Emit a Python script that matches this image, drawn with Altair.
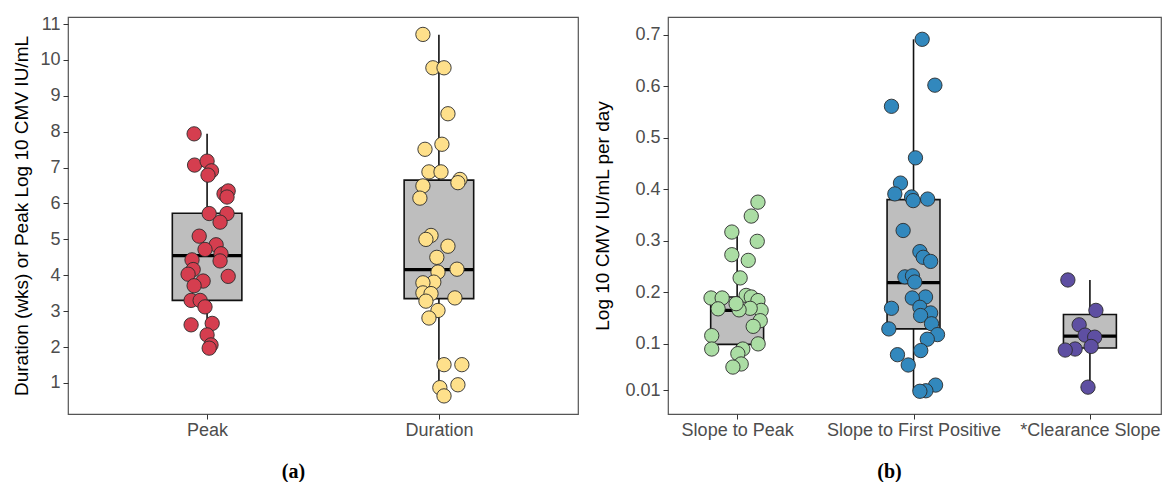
import altair as alt
import pandas as pd

# ---------------- Panel (a) data ----------------
a_groups = ["Peak", "Duration"]
peak_values = [7.94, 7.07, 7.18, 6.91, 6.79, 6.27, 6.35, 6.18, 5.72, 5.72, 5.48, 5.09,
               4.85, 4.72, 4.60, 4.40, 4.43, 4.16, 4.03, 3.97, 3.84, 3.71, 3.30, 3.30,
               3.12, 2.62, 2.66, 2.34, 2.06, 1.97]
peak_jitter = [-0.056, -0.054, 0.0, 0.019, 0.004, 0.073, 0.091, 0.086, 0.009, 0.086, 0.056, -0.034,
               0.039, -0.009, 0.060, 0.056, -0.065, -0.060, -0.082, 0.091, -0.017, -0.056, -0.069, -0.030,
               -0.009, -0.069, 0.022, 0.0, 0.017, 0.009]
duration_values = [10.71, 9.78, 9.78, 8.50, 7.65, 7.51, 6.88, 6.88, 6.67, 6.58, 6.49, 6.15,
                   5.11, 5.00, 4.81, 4.50, 4.17, 4.09, 3.81, 3.79, 3.51, 3.49, 3.28, 3.37,
                   3.02, 2.81, 1.51, 1.51, 0.95, 0.87, 0.64]
duration_jitter = [-0.069, -0.026, 0.022, 0.039, 0.013, -0.060, -0.043, 0.009, 0.091, 0.082, -0.069, -0.082,
                   -0.034, -0.056, 0.039, -0.009, 0.078, -0.004, -0.022, -0.069, -0.069, -0.034, -0.056, 0.069,
                   -0.004, -0.043, 0.022, 0.099, 0.082, 0.004, 0.022]
# box statistics (lower whisker, q1, median, q3, upper whisker)
a_lo = [1.97, 0.64]
a_q1 = [3.30, 3.35]
a_med = [4.55, 4.16]
a_q3 = [5.73, 6.65]
a_hi = [7.94, 10.70]
a_colors = ["#D53E4F", "#FEE08B"]
a_yticks = [1, 2, 3, 4, 5, 6, 7, 8, 9, 10, 11]

# ---------------- Panel (b) data ----------------
b_groups = ["Slope to Peak", "Slope to First Positive", "*Clearance Slope"]
stp_values = [0.375, 0.348, 0.317, 0.299, 0.273, 0.262, 0.228, 0.189, 0.189, 0.168, 0.194, 0.191,
              0.184, 0.165, 0.169, 0.166, 0.178, 0.145, 0.134, 0.116, 0.100, 0.090, 0.090, 0.081,
              0.061, 0.055]
stp_jitter = [0.118, 0.080, -0.030, 0.114, -0.030, 0.063, 0.017, -0.148, -0.085, -0.108, 0.051, 0.080,
              0.118, 0.136, 0.074, 0.011, -0.006, 0.131, 0.091, -0.144, 0.119, -0.144, 0.032, 0.004,
              0.023, -0.024]
sfp_values = [0.691, 0.602, 0.561, 0.461, 0.412, 0.391, 0.385, 0.378, 0.381, 0.320, 0.279, 0.268,
              0.260, 0.230, 0.232, 0.220, 0.191, 0.189, 0.171, 0.169, 0.160, 0.155, 0.139, 0.118,
              0.109, 0.129, 0.087, 0.079, 0.059, 0.020, 0.009, 0.008]
sfp_jitter = [0.049, 0.121, -0.125, 0.011, -0.074, -0.106, -0.011, -0.002, 0.080, -0.059, 0.036, 0.055,
              0.097, -0.049, -0.006, 0.007, 0.068, -0.007, 0.036, -0.125, 0.097, 0.040, 0.102, 0.136,
              0.078, -0.140, 0.041, -0.091, -0.030, 0.125, 0.070, 0.036]
cs_values = [0.224, 0.165, 0.137, 0.117, 0.113, 0.095, 0.090, 0.088, 0.016]
cs_jitter = [-0.125, 0.034, -0.061, -0.027, 0.027, 0.007, -0.084, -0.140, -0.011]
b_lo = [0.055, 0.009, 0.016]
b_q1 = [0.099, 0.129, 0.092]
b_med = [0.165, 0.219, 0.115]
b_q3 = [0.191, 0.380, 0.157]
b_hi = [0.317, 0.691, 0.224]
b_colors = ["#ABDDA4", "#3288BD", "#5E4FA2"]
b_yticks = [0.01, 0.1, 0.2, 0.3, 0.4, 0.5, 0.6, 0.7]

FONT = "Liberation Sans"
BOX_HALF = 0.15
LABEL_SIZE = 18


def points_frame(groups, vals, jits):
    rows = []
    for i, (g, v, j) in enumerate(zip(groups, vals, jits)):
        for vv, jj in zip(v, j):
            rows.append({"group": g, "pos": i + 1, "jit": jj, "value": vv})
    return pd.DataFrame(rows)


def box_frame(groups, lo, q1, med, q3, hi):
    return pd.DataFrame({"group": groups, "pos": list(range(1, len(groups) + 1)),
                         "lo": lo, "q1": q1, "med": med, "q3": q3, "hi": hi})


def panel(pts, box, groups, colors, xdom, ydom, yticks, yfmt, ytitle, ytitle_x,
          letter, letter_x, width, height):
    expr = " : ".join([f"datum.value == {i+1} ? '{g}'" for i, g in enumerate(groups)]) + " : ''"
    xaxis = alt.Axis(values=list(range(1, len(groups) + 1)), labelExpr=expr, grid=False,
                     domain=False, tickSize=5, tickColor="#333333", tickWidth=1,
                     labelColor="#4D4D4D", labelFont=FONT, labelFontSize=LABEL_SIZE, labelPadding=2,
                     title=letter, titleFont="Liberation Serif", titleFontSize=20,
                     titleFontWeight="bold", titleColor="#000000", titleX=letter_x, titleY=63,
                     titleBaseline="alphabetic", titleAlign="center")
    yaxis = alt.Axis(values=yticks, format=yfmt, grid=False, domain=False, tickSize=5,
                     tickColor="#333333", tickWidth=1, labelColor="#4D4D4D", labelFont=FONT,
                     labelFontSize=LABEL_SIZE, labelPadding=3, title=ytitle, titleFont=FONT,
                     titleFontSize=19, titleFontWeight="normal", titleColor="#000000",
                     titleAngle=270, titleX=ytitle_x, titleY=height / 2,
                     titleBaseline="middle", titleAlign="center")
    xs = alt.Scale(domain=xdom, nice=False, zero=False)
    ys = alt.Scale(domain=ydom, nice=False, zero=False)

    base_box = alt.Chart(box).transform_calculate(
        left=f"datum.pos - {BOX_HALF}", right=f"datum.pos + {BOX_HALF}")

    whisk_low = base_box.mark_rule(color="#111111", strokeWidth=1.6).encode(
        x=alt.X("pos:Q", scale=xs, axis=xaxis),
        y=alt.Y("lo:Q", scale=ys, axis=yaxis), y2="q1:Q")
    whisk_high = base_box.mark_rule(color="#111111", strokeWidth=1.6).encode(
        x=alt.X("pos:Q", scale=xs, axis=xaxis),
        y=alt.Y("q3:Q", scale=ys, axis=yaxis), y2="hi:Q")
    rect = base_box.mark_rect(fill="#BEBEBE", stroke="#111111", strokeWidth=1.6).encode(
        x=alt.X("left:Q", scale=xs, axis=xaxis), x2="right:Q",
        y=alt.Y("q1:Q", scale=ys, axis=yaxis), y2="q3:Q")
    median = base_box.mark_rule(color="#000000", strokeWidth=3.2).encode(
        x=alt.X("left:Q", scale=xs, axis=xaxis), x2="right:Q",
        y=alt.Y("med:Q", scale=ys, axis=yaxis))
    dots = alt.Chart(pts).transform_calculate(xpos="datum.pos + datum.jit").mark_circle(
        size=205, opacity=1, stroke="#2b2b2b", strokeWidth=0.9).encode(
        x=alt.X("xpos:Q", scale=xs, axis=xaxis),
        y=alt.Y("value:Q", scale=ys, axis=yaxis),
        color=alt.Color("group:N", scale=alt.Scale(domain=groups, range=colors), legend=None))
    return alt.layer(whisk_low, whisk_high, rect, median, dots).properties(
        width=width, height=height)


pa = panel(points_frame(a_groups, [peak_values, duration_values], [peak_jitter, duration_jitter]),
           box_frame(a_groups, a_lo, a_q1, a_med, a_q3, a_hi), a_groups, a_colors,
           [0.4, 2.6], [0.136, 11.195], a_yticks, "d",
           "Duration (wks) or Peak Log 10 CMV IU/mL", -47, "(a)", 225, 510, 397)

pb = panel(points_frame(b_groups, [stp_values, sfp_values, cs_values], [stp_jitter, sfp_jitter, cs_jitter]),
           box_frame(b_groups, b_lo, b_q1, b_med, b_q3, b_hi), b_groups, b_colors,
           [0.608, 3.403], [-0.0361, 0.7343], b_yticks, "~g",
           "Log 10 CMV IU/mL per day", -66, "(b)", 221, 493, 397)

chart = alt.hconcat(pa, pb, spacing=13).resolve_scale(color="independent").configure(
    background="white",
    view=alt.ViewConfig(stroke="#555555", strokeWidth=1.2),
).properties(padding={"left": 11, "top": 14, "right": 0, "bottom": 0})

chart.save("out.html", embed_options={"renderer": "svg", "actions": False})
